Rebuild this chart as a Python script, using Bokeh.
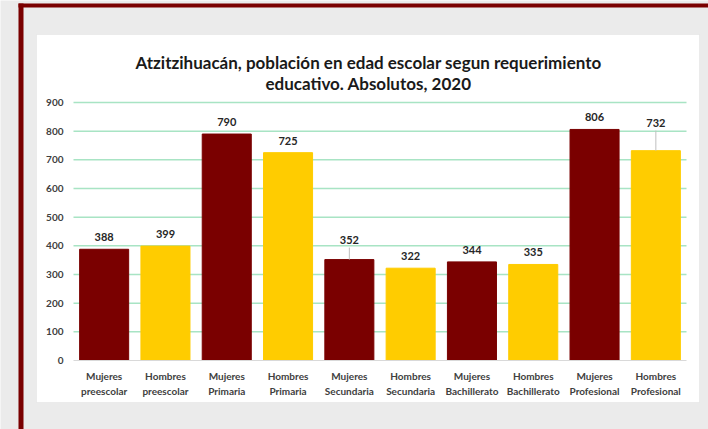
from bokeh.plotting import figure
from bokeh.models import (ColumnDataSource, Range1d, LabelSet, Label,
                          BoxAnnotation, FixedTicker)
from bokeh.core.properties import value
from bokeh.embed import file_html
from bokeh.resources import INLINE

# ---- data ----
categories = ["Mujeres\npreescolar", "Hombres\npreescolar",
              "Mujeres\nPrimaria", "Hombres\nPrimaria",
              "Mujeres\nSecundaria", "Hombres\nSecundaria",
              "Mujeres\nBachillerato", "Hombres\nBachillerato",
              "Mujeres\nProfesional", "Hombres\nProfesional"]
values = [388, 399, 790, 725, 352, 322, 344, 335, 806, 732]
title_lines = ["Atzitzihuacán, población en edad escolar segun requerimiento",
               "educativo. Absolutos, 2020"]
y_ticks = [0, 100, 200, 300, 400, 500, 600, 700, 800, 900]

# ---- styling ----
MAROON = "#7a0000"
YELLOW = "#ffcc00"
BG = "#ebebeb"
GRID = "#a8e4c4"
colors = [MAROON if c.startswith("Mujeres") else YELLOW for c in categories]
# extra lift (data units) for labels that sit on a leader line
label_lift = [0, 0, 0, 0, 28, 0, 0, 0, 0, 56]

FONT = "Lato"
W, H = 708, 429
FL, FR, FT, FB = 73, 686, 102, 360   # bar area in page pixels
N = len(categories)
YMAX = y_ticks[-1]
ux = (FR - FL) / N          # px per category
uy = YMAX / (FB - FT)       # data units per px

xr = Range1d(-0.5 - FL / ux, N - 0.5 + (W - FR) / ux)
yr = Range1d(-(H - FB) * uy, YMAX + FT * uy)

p = figure(width=W, height=H, output_backend="svg", toolbar_location=None,
           x_range=xr, y_range=yr, min_border=0)
p.min_border_left = p.min_border_right = p.min_border_top = p.min_border_bottom = 0
p.border_fill_color = BG
p.background_fill_color = BG
p.outline_line_color = None
p.xgrid.visible = False
p.ygrid.visible = False


def sx(px):  # page pixel -> x data
    return xr.start + px / ux


def sy(py):  # page pixel -> y data
    return yr.end - py * uy


def pbox(l, r, t, b, level="image", **kw):
    p.add_layout(BoxAnnotation(left=sx(l), right=sx(r), top=sy(t), bottom=sy(b),
                               level=level, **kw))


# white chart panel and maroon frame lines
pbox(36, 699, 34, 402, fill_color="white", fill_alpha=1.0,
     line_color="#d4d4d4", line_width=1)
pbox(18, W, 3, 7, fill_color=MAROON, fill_alpha=1.0, line_color=None)
pbox(18, 23, 3, H, fill_color=MAROON, fill_alpha=1.0, line_color=None)

xs = list(range(N))

# horizontal grid lines across the bar area
gl = [t for t in y_ticks if t > 0]
p.segment(x0=[-0.5] * len(gl), x1=[N - 0.5] * len(gl), y0=gl, y1=gl,
          line_color=GRID, line_width=1.5)

src = ColumnDataSource(dict(
    x=xs, val=values, color=colors,
    label_y=[v + l for v, l in zip(values, label_lift)],
    text=[str(v) for v in values]))

p.vbar(x="x", top="val", width=0.8, color="color", source=src)

# leader lines
lead = [(x, v, v + l + 14) for x, v, l in zip(xs, values, label_lift) if l > 0]
if lead:
    p.segment(x0=[a[0] for a in lead], y0=[a[1] for a in lead],
              x1=[a[0] for a in lead], y1=[a[2] for a in lead],
              line_color="#bfbfbf", line_width=1)

labels = LabelSet(x="x", y="label_y", text="text", source=src,
                  text_align="center", text_baseline="middle", y_offset=12,
                  text_font=value(FONT), text_font_style="bold",
                  text_font_size="11px", text_color="#262626")
p.add_layout(labels)

# title, two centred lines
for txt, ty in zip(title_lines, [62, 83]):
    p.add_layout(Label(x=sx(368), y=sy(ty),
                       text=txt, text_align="center", text_baseline="middle",
                       text_font=FONT, text_font_style="bold",
                       text_font_size="17px", text_color="#1a1a1a"))

# axes, drawn at fixed locations inside the frame
p.yaxis.fixed_location = -0.5
p.yaxis.bounds = (0, YMAX)
p.yaxis.ticker = FixedTicker(ticks=y_ticks)
p.yaxis.axis_line_color = None
p.yaxis.major_tick_line_color = None
p.yaxis.minor_tick_line_color = None
p.yaxis.major_tick_out = 0
p.yaxis.major_tick_in = 0
p.yaxis.major_label_standoff = 10
p.yaxis.major_label_text_font = FONT
p.yaxis.major_label_text_font_style = "bold"
p.yaxis.major_label_text_font_size = "10px"
p.yaxis.major_label_text_color = "#404040"

p.xaxis.fixed_location = 0
p.xaxis.bounds = (-0.5, N - 0.5)
p.xaxis.ticker = FixedTicker(ticks=xs)
p.xaxis.major_label_overrides = {i: c for i, c in zip(xs, categories)}
p.xaxis.axis_line_color = "#d9d9d9"
p.xaxis.axis_line_width = 1
p.xaxis.major_tick_line_color = None
p.xaxis.minor_tick_line_color = None
p.xaxis.major_tick_out = 0
p.xaxis.major_tick_in = 0
p.xaxis.major_label_standoff = 9
p.xaxis.major_label_text_font = FONT
p.xaxis.major_label_text_font_style = "bold"
p.xaxis.major_label_text_font_size = "10px"
p.xaxis.major_label_text_color = "#404040"
p.xaxis.major_label_text_line_height = 1.3

open("out.html", "w").write(file_html(p, INLINE))
